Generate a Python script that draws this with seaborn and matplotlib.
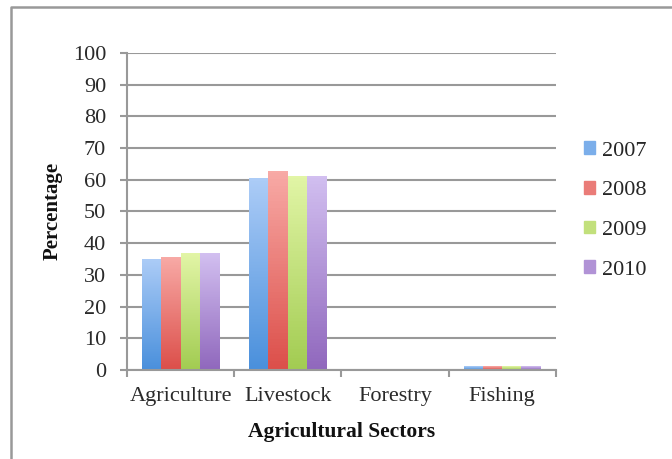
import numpy as np
import pandas as pd
import matplotlib
matplotlib.use("Agg")
import matplotlib.pyplot as plt
import matplotlib.colors as mcolors
from matplotlib.lines import Line2D
import seaborn as sns

# Chart data
sectors = ["Agriculture", "Livestock", "Forestry", "Fishing"]
years = ["2007", "2008", "2009", "2010"]
pct_2007 = [35.1, 60.5, 0, 1.2]
pct_2008 = [35.7, 62.8, 0, 1.2]
pct_2009 = [36.8, 61.2, 0, 1.2]
pct_2010 = [36.8, 61.2, 0, 1.2]

# (dark bottom, light top) per year
colors_dark = ["#4a90dc", "#dc4f4a", "#a2cc52", "#9068bd"]
colors_light = ["#acccf7", "#f8aaa6", "#e2f5a6", "#d2bff0"]

df = pd.DataFrame({
    "Sector": sectors * 4,
    "Year": sum([[y] * 4 for y in years], []),
    "Pct": pct_2007 + pct_2008 + pct_2009 + pct_2010,
})

sns.set_theme(style="white")
plt.rcParams["font.family"] = ["Liberation Serif", "DejaVu Serif"]

fig = plt.figure(figsize=(6.72, 4.59), dpi=100)
ax = fig.add_axes([0.189, 0.194, 0.638, 0.691])

mid = [mcolors.to_hex((np.array(mcolors.to_rgb(a)) + np.array(mcolors.to_rgb(b))) / 2)
       for a, b in zip(colors_dark, colors_light)]
sns.barplot(data=df, x="Sector", y="Pct", hue="Year", order=sectors, hue_order=years,
            palette=mid, width=0.72, gap=0, linewidth=0, ax=ax, legend=True)

# gradient fill on each bar
ax.set_xlim(-0.5, 3.5)
ax.set_ylim(0, 100)
for i, cont in enumerate(ax.containers):
    cmap = mcolors.LinearSegmentedColormap.from_list("g", [colors_dark[i], colors_light[i]])
    for bar in cont:
        x0, y0 = bar.get_x(), bar.get_y()
        w, h = bar.get_width(), bar.get_height()
        if h <= 0:
            continue
        grad = np.linspace(0, 1, 64).reshape(-1, 1)
        im = ax.imshow(grad, cmap=cmap, origin="lower", aspect="auto",
                       extent=(x0, x0 + w, y0, y0 + h), zorder=bar.get_zorder())
        im.set_clip_path(bar)
ax.set_xlim(-0.5, 3.5)
ax.set_ylim(0, 100)

gcol = "#999999"
ax.set_yticks(range(0, 101, 10))
ax.yaxis.grid(True, color=gcol, linewidth=1.5)
ax.set_axisbelow(True)
for s in ["top", "right"]:
    ax.spines[s].set_visible(False)
for s in ["left", "bottom"]:
    ax.spines[s].set_color(gcol)
    ax.spines[s].set_linewidth(1.5)

ax.set_xticks([-0.5, 0.5, 1.5, 2.5, 3.5])
ax.set_xticklabels([])
ax.set_xticks(range(4), minor=True)
ax.set_xticklabels(sectors, minor=True)
ax.tick_params(axis="x", which="major", direction="out", length=5, color=gcol, width=1.5, bottom=True)
ax.tick_params(axis="x", which="minor", length=0, pad=12, labelsize=16, labelcolor="#2a2a2a")
ax.tick_params(axis="y", direction="out", length=5, color=gcol, width=1.5, left=True,
               labelsize=16, labelcolor="#2a2a2a", pad=10)

ax.set_xlabel("Agricultural Sectors", fontsize=15.5, fontweight="bold", labelpad=12, color="#111111")
ax.set_ylabel("Percentage", fontsize=15, fontweight="bold", labelpad=7, color="#111111")

handles = [plt.Rectangle((0, 0), 1, 1, color=c) for c in mid]
ax.legend(handles, years, loc="center left", bbox_to_anchor=(1.045, 0.503), frameon=False,
          fontsize=16, handlelength=0.5, handleheight=0.5, handletextpad=0.3,
          labelspacing=0.92, borderaxespad=0)

# outer frame
fig.add_artist(Line2D([11 / 672, 11 / 672, 1.0], [-0.01, 1 - 7 / 459, 1 - 7 / 459],
                      transform=fig.transFigure, color="#999999", linewidth=1.8))

fig.savefig("out.png", dpi=100)
